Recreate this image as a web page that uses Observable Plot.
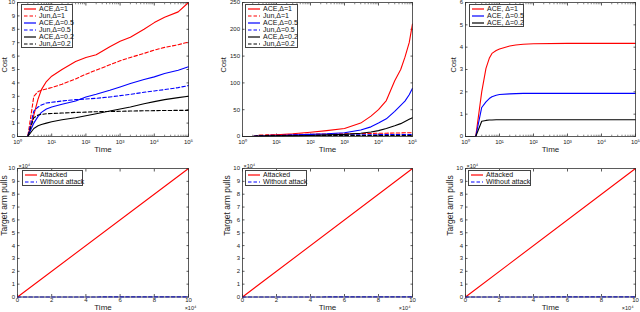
<!DOCTYPE html>
<html><head><meta charset="utf-8">
<script src="https://cdn.jsdelivr.net/npm/d3@7"></script>
<script src="https://cdn.jsdelivr.net/npm/@observablehq/plot@0.6"></script>
<style>
body{margin:0;background:#fff;}
#wrap{position:relative;width:640px;height:312px;overflow:hidden;font-family:"Liberation Sans",Arial,sans-serif;}
.panel{position:absolute;}
.legend{position:absolute;background:#fff;border:1px solid #444;box-sizing:border-box;font-size:7px;color:#111;}
.legend .row{position:absolute;left:0;height:7px;line-height:7px;white-space:nowrap;display:flex;align-items:center;}
.legend svg{display:block;margin-right:2px;}
</style></head><body><div id="wrap"></div>
<script>
// ---------- data ----------
const seriesNames = ["ACE,\u0394=1","Jun,\u0394=1","ACE,\u0394=0.5","Jun,\u0394=0.5","ACE,\u0394=0.2","Jun,\u0394=0.2"];
const seriesColors = ["#ff0000","#ff0000","#0000ff","#0000ff","#000000","#000000"];
const seriesDashed = [false,true,false,true,false,true];

// Panel 1 (top-left)
const timeP1 = [1,2,3,4,5,7,10,20,50,100,200,500,1e3,2e3,5e3,1e4,2e4,5e4,1e5];
const p1Ace1  = [0,0,1.6,2.8,3.5,4.1,4.5,5.0,5.6,5.9,6.1,6.7,7.1,7.4,8.0,8.5,8.9,9.3,10.0];
const p1Jun1  = [0,0,3.0,3.35,3.45,3.55,3.65,3.9,4.3,4.65,4.95,5.35,5.65,5.9,6.2,6.45,6.65,6.85,7.05];
const p1Ace05 = [0,0,1.0,1.5,1.8,2.05,2.2,2.4,2.65,2.95,3.15,3.45,3.7,3.95,4.25,4.45,4.7,4.95,5.2];
const p1Jun05 = [0,0,1.9,2.2,2.35,2.5,2.55,2.65,2.75,2.8,2.85,2.95,3.05,3.15,3.3,3.4,3.5,3.65,3.8];
const p1Ace02 = [0,0,0.6,0.8,0.9,1.0,1.1,1.25,1.4,1.55,1.7,1.9,2.05,2.2,2.45,2.6,2.75,2.9,3.0];
const p1Jun02 = [0,0,1.4,1.6,1.65,1.7,1.72,1.75,1.8,1.82,1.85,1.87,1.88,1.9,1.92,1.93,1.94,1.95,1.95];

// Panel 2 (top-middle)
const timeP2 = [1,2,3,5,10,30,100,300,1e3,3e3,6e3,1e4,1.7e4,3e4,4.5e4,6e4,8e4,1e5];
const p2Ace1  = [0,0,1,2,3,5,8,11,15,25,38,50,67,104,125,148,175,210];
const p2Jun1  = [0,0,2.5,3,3.3,3.8,4.2,4.6,5,5.4,5.8,6,6.2,6.5,6.7,6.9,7,7.1];
const p2Ace05 = [0,0,0.5,1,1.5,2.5,4,5,7,12,18,25,33,47,58,66,78,90];
const p2Jun05 = [0,0,1.8,2,2.3,2.5,2.7,2.9,3,3.2,3.3,3.4,3.5,3.6,3.7,3.7,3.8,3.8];
const p2Ace02 = [0,0,0.3,0.5,0.8,1.2,2,3,4,6,8.5,11,15,20,24,28,32,35];
const p2Jun02 = [0,0,1.4,1.6,1.7,1.75,1.8,1.82,1.85,1.88,1.9,1.9,1.92,1.93,1.94,1.95,1.95,1.95];

// Panel 3 (top-right)
const timeP3 = [1,2,3,4,5,6,8,10,20,30,50,100,1e3,1e4,1e5];
const p3Ace1  = [0,0,2.0,3.05,3.5,3.72,3.85,3.92,4.05,4.1,4.13,4.15,4.17,4.17,4.17];
const p3Ace05 = [0,0,1.3,1.55,1.7,1.78,1.85,1.88,1.91,1.92,1.93,1.93,1.93,1.93,1.93];
const p3Ace02 = [0,0,0.68,0.72,0.74,0.74,0.75,0.75,0.75,0.75,0.75,0.75,0.75,0.75,0.75];

// Bottom panels (target arm pulls)
const pullNames = ["Attacked","Without attack"];
const pullTime = [0, 100000];
const pullAttacked = [0, 100000];
const pullWithout = [0, 120];

// tick values
const logTicks = [1,10,100,1e3,1e4,1e5];
const costTicksP1 = [0,1,2,3,4,5,6,7,8,9,10];
const costTicksP2 = [0,50,100,150,200,250];
const costTicksP3 = [0,1,2,3,4,5,6];
const pullTicksY = [0,1e4,2e4,3e4,4e4,5e4,6e4,7e4,8e4,9e4,1e5];
const pullTicksX = [0,2e4,4e4,6e4,8e4,1e5];

// ---------- helpers ----------
const sup = {"0":"\u2070","1":"\u00b9","2":"\u00b2","3":"\u00b3","4":"\u2074","5":"\u2075"};
const logFmt = d => "10" + sup[String(Math.round(Math.log10(d)))];
const minorLog = [];
for (let e = 0; e < 5; e++) for (let m = 2; m < 10; m++) minorLog.push(m * 10 ** e);
const FONT = "'Liberation Sans', Arial, Helvetica, sans-serif";
const AX = "#333";

function toRows(time, values, name) { return time.map((t, i) => ({t, v: values[i], name})); }

const wrap = document.getElementById("wrap");

function makePanel(o) {
  const marks = [];
  marks.push(Plot.axisX({anchor: "bottom", ticks: o.xTicks, tickSize: 0, tickPadding: o.xPad, tickFormat: o.xFormat, label: null, fill: "#222"}));
  marks.push(Plot.axisY({anchor: "left", ticks: o.yTicks, tickSize: 0, tickPadding: 2.5, tickFormat: o.yFormat, label: null, fill: "#222"}));
  for (const a of ["bottom","top"]) {
    marks.push(Plot.axisX({anchor: a, ticks: o.xTicks, tickSize: -2.5, tickFormat: () => "", label: null, stroke: AX, strokeWidth: 0.8}));
    if (o.xMinor) marks.push(Plot.axisX({anchor: a, ticks: o.xMinor, tickSize: -1.3, tickFormat: () => "", label: null, stroke: AX, strokeWidth: 0.6}));
  }
  for (const a of ["left","right"]) {
    marks.push(Plot.axisY({anchor: a, ticks: o.yTicks, tickSize: -2.5, tickFormat: () => "", label: null, stroke: AX, strokeWidth: 0.8}));
  }
  for (const s of o.series) {
    marks.push(Plot.line(s.data, {x: "t", y: "v", stroke: s.color, strokeWidth: 1.1, strokeDasharray: s.dashed ? "3.5,2.2" : null}));
  }
  marks.push(Plot.frame({stroke: AX, strokeWidth: 0.8}));
  marks.push(Plot.text([o.xLabel], {frameAnchor: "bottom", dy: o.xLabelDy, fontSize: 8, fill: "#222", lineAnchor: "bottom"}));
  marks.push(Plot.text([o.yLabel], {frameAnchor: "left", dx: -o.yLabelDx, dy: o.yLabelDy || 0, rotate: -90, fontSize: o.yLabelSize, fill: "#222", lineAnchor: "middle"}));
  if (o.multiplier) {
    marks.push(Plot.text(["\u00d710\u2074"], {frameAnchor: "top-left", dx: 1, dy: -1, textAnchor: "start", lineAnchor: "bottom", fontSize: 5.5, fill: "#222"}));
    marks.push(Plot.text(["\u00d710\u2074"], {frameAnchor: "bottom-right", dx: o.multDx, dy: 9.5, textAnchor: o.multAnchor, lineAnchor: "top", fontSize: 5.5, fill: "#222"}));
  }
  const chart = Plot.plot({
    width: o.width, height: o.height,
    marginLeft: o.mL, marginRight: o.mR, marginTop: o.mT, marginBottom: o.mB,
    style: {fontFamily: FONT, fontSize: "6px", background: "transparent", overflow: "visible"},
    x: {type: o.xType, domain: o.xDomain},
    y: {type: "linear", domain: o.yDomain},
    marks
  });
  chart.classList.add("panel");
  chart.style.left = o.left + "px";
  chart.style.top = o.top + "px";
  wrap.appendChild(chart);
}

function makeLegend(left, top, width, entries, rowH, firstY) {
  const box = document.createElement("div");
  box.className = "legend";
  box.style.left = left + "px";
  box.style.top = top + "px";
  box.style.width = width + "px";
  box.style.height = (firstY * 2 + rowH * (entries.length - 1)) + "px";
  entries.forEach((e, i) => {
    const row = document.createElement("div");
    row.className = "row";
    row.style.top = (firstY + i * rowH - 3.5 - 1) + "px";
    row.style.left = "1px";
    row.innerHTML = `<svg width="14" height="4"><line x1="1" x2="13" y1="2" y2="2" stroke="${e.color}" stroke-width="1.2" ${e.dashed ? 'stroke-dasharray="3.5,2"' : ''}/></svg><span>${e.name}</span>`;
    box.appendChild(row);
  });
  wrap.appendChild(box);
}

// ---------- top row ----------
const p1Vals = [p1Ace1,p1Jun1,p1Ace05,p1Jun05,p1Ace02,p1Jun02];
const p2Vals = [p2Ace1,p2Jun1,p2Ace05,p2Jun05,p2Ace02,p2Jun02];
const p3Vals = [p3Ace1,p3Ace05,p3Ace02];
const topCommon = {top: 0, height: 155, mT: 2, mB: 19, xType: "log", xDomain: [1,1e5], xTicks: logTicks, xMinor: minorLog, xFormat: logFmt, xPad: 3.5,
  xLabel: "Time", xLabelDy: 15, yLabel: "Cost", yLabelSize: 7.5, yLabelDy: 3};

makePanel({...topCommon, left: 0, width: 210, mL: 17, mR: 22, yDomain: [0,10], yTicks: costTicksP1, yFormat: d => d, yLabelDx: 12.5,
  series: p1Vals.map((v, i) => ({data: toRows(timeP1, v, seriesNames[i]), color: seriesColors[i], dashed: seriesDashed[i]}))});
makePanel({...topCommon, left: 210, width: 210, mL: 32, mR: 8, yDomain: [0,250], yTicks: costTicksP2, yFormat: d => d, yLabelDx: 18.7,
  series: p2Vals.map((v, i) => ({data: toRows(timeP2, v, seriesNames[i]), color: seriesColors[i], dashed: seriesDashed[i]}))});
makePanel({...topCommon, left: 425, width: 215, mL: 40, mR: 5, yDomain: [0,6], yTicks: costTicksP3, yFormat: d => d, yLabelDx: 11.5,
  series: p3Vals.map((v, i) => ({data: toRows(timeP3, v, seriesNames[i*2]), color: seriesColors[i*2], dashed: false}))});

// ---------- bottom row ----------
const botCommon = {top: 155, height: 157, mT: 13, mB: 15.5, xType: "linear", xDomain: [0,1e5], xTicks: pullTicksX, xMinor: null, xFormat: d => d / 1e4, xPad: 1,
  yDomain: [0,1e5], yTicks: pullTicksY, yFormat: d => d / 1e4, xLabel: "Time", xLabelDy: 13.3, yLabel: "Target arm pulls", yLabelSize: 8.5, yLabelDy: 3, multiplier: true};
const pullSeries = () => [
  {data: toRows(pullTime, pullAttacked, pullNames[0]), color: "#ff0000", dashed: false},
  {data: toRows(pullTime, pullWithout, pullNames[1]), color: "#0000ff", dashed: true}
];
makePanel({...botCommon, left: 0, width: 210, mL: 17, mR: 22, yLabelDx: 13, multDx: 2, multAnchor: "middle", series: pullSeries()});
makePanel({...botCommon, left: 210, width: 210, mL: 32, mR: 8, yLabelDx: 15, multDx: -2, multAnchor: "end", series: pullSeries()});
makePanel({...botCommon, left: 425, width: 215, mL: 40, mR: 5, yLabelDx: 15, multDx: -2, multAnchor: "end", series: pullSeries()});

// ---------- legends ----------
const topEntries = seriesNames.map((n, i) => ({name: n, color: seriesColors[i], dashed: seriesDashed[i]}));
makeLegend(21, 4, 52, topEntries, 7, 4.5);
makeLegend(245, 4, 53, topEntries, 7, 4.5);
makeLegend(469, 4, 55, [0,2,4].map(i => ({name: seriesNames[i].replace(",", ", "), color: seriesColors[i], dashed: false})), 7, 4.5);
const pullEntries = [{name: pullNames[0], color: "#ff0000", dashed: false}, {name: pullNames[1], color: "#0000ff", dashed: true}];
makeLegend(22, 170, 61, pullEntries, 7, 4.5);
makeLegend(245, 170, 62, pullEntries, 7, 4.5);
makeLegend(468, 170, 63, pullEntries, 7, 4.5);
</script>
</body></html>
